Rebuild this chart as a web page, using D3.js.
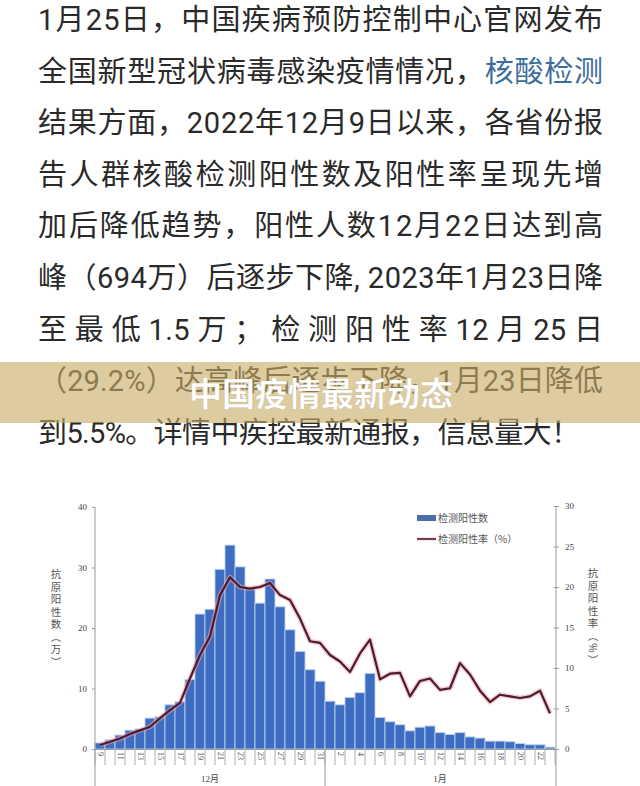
<!DOCTYPE html>
<html><head><meta charset="utf-8">
<script src="https://cdn.jsdelivr.net/npm/d3@7"></script>
<style>html,body{margin:0;padding:0;background:#fff;}svg{display:block;}</style>
</head><body>
<svg id="c" width="640" height="786"></svg>
<script>
// ---- data ----
const paragraphLines = [
  [["1月25日，中国疾病预防控制中心官网发布", "#2a2a2a"]],
  [["全国新型冠状病毒感染疫情情况，", "#2a2a2a"], ["核酸检测", "#3a6d9c"]],
  [["结果方面，2022年12月9日以来，各省份报", "#2a2a2a"]],
  [["告人群核酸检测阳性数及阳性率呈现先增", "#2a2a2a"]],
  [["加后降低趋势，阳性人数12月22日达到高", "#2a2a2a"]],
  [["峰（694万）后逐步下降, 2023年1月23日降", "#2a2a2a"]],
  [["至 最 低 1.5 万 ； 检 测 阳 性 率 12 月 25 日", "#2a2a2a"]],
  [["（29.2%）达高峰后逐步下降，1月23日降低", "#2a2a2a"]],
  [["到5.5%。详情中疾控最新通报，信息量大！", "#2a2a2a"]]
];
const lineWidths = [565, 565, 565, 565, 565, 565, 565, 565, 542];
const bannerTitle = "中国疫情最新动态";

const days = ["9","10","11","12","13","14","15","16","17","18","19","20","21","22","23","24","25","26","27","28","29","30","31",
  "1","2","3","4","5","6","7","8","9","10","11","12","13","14","15","16","17","18","19","20","21","22","23"];
const months = [{name:"12月", from:0, to:23}, {name:"1月", from:23, to:46}];
const positives = [1.0,1.5,2.3,3.1,3.3,5.1,5.3,7.3,7.8,11.5,22.3,23.1,29.7,33.7,30.1,26.5,24.1,28.1,23.5,19.7,16.1,13.1,11.2,
  7.9,7.3,8.5,9.3,12.5,5.2,4.5,4.0,3.0,3.6,3.8,2.7,2.4,2.7,2.0,1.8,1.3,1.3,1.2,0.9,0.7,0.7,0.3];
const rates = [0.5,0.9,1.3,1.85,2.3,2.75,3.8,4.8,5.7,8.7,11.6,13.9,19.0,21.2,20.0,19.8,20.0,20.5,19.0,18.4,16.1,13.3,13.1,
  11.6,10.8,9.5,11.8,13.5,8.6,9.3,9.4,6.5,8.4,8.7,7.3,7.5,10.6,9.2,7.2,5.8,6.7,6.5,6.3,6.5,7.2,4.4];
const leftTicks = [0,10,20,30,40];
const rightTicks = [0,5,10,15,20,25,30];
const legendLabels = ["检测阳性数", "检测阳性率（%）"];
const leftTitle = "抗原阳性数（万）";
const rightTitle = "抗原阳性率（%）";

// ---- drawing ----
const svg = d3.select("#c");
svg.append("rect").attr("width",640).attr("height",786).attr("fill","#fff");

const cjk = "'Noto Sans CJK SC','Noto Sans',sans-serif";
const para = "Roboto,'Noto Sans CJK SC',sans-serif";
const serif = "'Liberation Serif','Noto Sans CJK SC',serif";

// paragraph
paragraphLines.forEach((segs, i) => {
  const t = svg.append("text")
    .attr("x", 38).attr("y", 30 + i * 51.6)
    .attr("font-family", para).attr("font-size", 29)
    .attr("textLength", lineWidths[i]).attr("lengthAdjust", "spacing");
  segs.forEach(s => t.append("tspan").attr("fill", s[1]).text(s[0]));
});

// banner
svg.append("rect").attr("x",0).attr("y",362).attr("width",640).attr("height",61)
  .attr("fill","rgb(200,172,101)").attr("fill-opacity",0.62);
svg.append("text").attr("x",321).attr("y",406).attr("text-anchor","middle")
  .attr("font-family",cjk).attr("font-weight","bold").attr("font-size",33)
  .attr("fill","#fff").attr("stroke","rgba(120,100,60,0.25)").attr("stroke-width",0.6)
  .text(bannerTitle);

// chart
const x = d3.scaleBand().domain(d3.range(days.length)).range([95,555]).padding(0);
const yL = d3.scaleLinear().domain([0,40]).range([749,507]);
const yR = d3.scaleLinear().domain([0,30]).range([749,506]);
const axisColor = "#9a9a9a";

// bars
svg.append("g").selectAll("rect").data(positives).join("rect")
  .attr("x",(d,i)=>x(i)).attr("width",x.bandwidth())
  .attr("y",d=>yL(d)).attr("height",d=>yL(0)-yL(d))
  .attr("fill","#3d6cc1").attr("stroke","#b9cff2").attr("stroke-width",0.9);

// line with glow
const line = d3.line().x((d,i)=>x(i)+x.bandwidth()/2).y(d=>yR(d));
svg.append("path").datum(rates).attr("d",line).attr("fill","none")
  .attr("stroke","#f3a3a8").attr("stroke-width",5).attr("stroke-opacity",0.55).attr("stroke-linejoin","round");
svg.append("path").datum(rates).attr("d",line).attr("fill","none")
  .attr("stroke","#4a1c32").attr("stroke-width",2.2).attr("stroke-linejoin","round");

// left axis
const gL = svg.append("g").attr("transform","translate(95,0)")
  .call(d3.axisLeft(yL).tickValues(leftTicks).tickSize(3).tickPadding(5));
gL.select(".domain").remove();
gL.selectAll("line").attr("stroke",axisColor);
gL.selectAll("text").attr("font-family",serif).attr("font-size",9).attr("fill","#444");
svg.append("line").attr("x1",95).attr("x2",95).attr("y1",507).attr("y2",786).attr("stroke",axisColor);

// right axis
const gR = svg.append("g").attr("transform","translate(556,0)")
  .call(d3.axisRight(yR).tickValues(rightTicks).tickSize(3).tickPadding(6));
gR.select(".domain").remove();
gR.selectAll("line").attr("stroke",axisColor).attr("x1",-2);
gR.selectAll("text").attr("font-family",serif).attr("font-size",9).attr("fill","#444");
svg.append("line").attr("x1",556).attr("x2",556).attr("y1",506).attr("y2",786).attr("stroke",axisColor);

// baseline
svg.append("line").attr("x1",95).attr("x2",556).attr("y1",749.5).attr("y2",749.5).attr("stroke",axisColor);

// category ticks
svg.append("g").selectAll("line").data(d3.range(days.length+1)).join("line")
  .attr("x1",i=>95 + i*x.step()).attr("x2",i=>95 + i*x.step())
  .attr("y1",749).attr("y2",765).attr("stroke",axisColor).attr("stroke-width",0.8);
svg.append("g").selectAll("text").data(days.map((d,i)=>({d,i})).filter(o=>o.i%2===0)).join("text")
  .attr("transform",o=>`translate(${x(o.i)+x.bandwidth()/2},752) rotate(90)`)
  .attr("dominant-baseline","middle")
  .attr("font-family",serif).attr("font-size",8).attr("fill","#555")
  .text(o=>o.d);

// month separators & labels
svg.append("g").selectAll("line").data(months.slice(1)).join("line")
  .attr("x1",m=>x(m.from)).attr("x2",m=>x(m.from)).attr("y1",749).attr("y2",786)
  .attr("stroke",axisColor);
svg.append("g").selectAll("text").data(months).join("text")
  .attr("x",m=>(x(m.from)+ (m.to>=days.length? 555 : x(m.to)))/2).attr("y",782)
  .attr("text-anchor","middle").attr("font-family",serif).attr("font-size",9).attr("fill","#444")
  .text(m=>m.name);

// axis titles (vertical)
svg.append("text").attr("x",56).attr("y",569).attr("writing-mode","vertical-rl")
  .attr("font-family",cjk).attr("font-size",10.5).attr("fill","#555").attr("letter-spacing",2)
  .text(leftTitle);
svg.append("text").attr("x",593).attr("y",568).attr("writing-mode","vertical-rl")
  .attr("font-family",cjk).attr("font-size",10.5).attr("fill","#555").attr("letter-spacing",2)
  .text(rightTitle);

// legend
const lg = svg.append("g");
lg.append("rect").attr("x",417).attr("y",515).attr("width",19).attr("height",6).attr("fill","#4a6ea8");
lg.append("text").attr("x",438).attr("y",522).attr("font-family",cjk).attr("font-size",10)
  .attr("fill","#555").text(legendLabels[0]);
lg.append("line").attr("x1",417).attr("x2",436).attr("y1",539).attr("y2",539)
  .attr("stroke","#f3a3a8").attr("stroke-width",3).attr("stroke-opacity",0.6);
lg.append("line").attr("x1",417).attr("x2",436).attr("y1",539).attr("y2",539)
  .attr("stroke","#4a1c32").attr("stroke-width",1.6);
lg.append("text").attr("x",438).attr("y",543).attr("font-family",cjk).attr("font-size",10)
  .attr("fill","#555").text(legendLabels[1]);
</script>
</body></html>
